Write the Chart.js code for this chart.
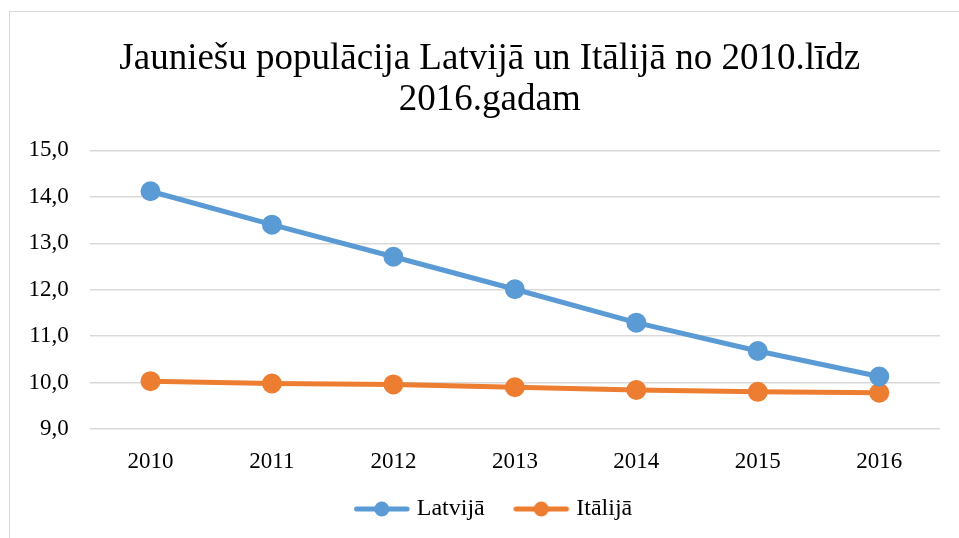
<!DOCTYPE html>
<html>
<head>
<meta charset="utf-8">
<script src="https://cdn.jsdelivr.net/npm/chart.js@4"></script>
<style>
  html, body { margin: 0; padding: 0; background: #fff; }
  #wrap {
    position: absolute; left: 9px; top: 11px; width: 960px; height: 540px;
    border-left: 1px solid #d9d9d9; border-top: 1px solid #d9d9d9;
  }
  #chart { position: absolute; left: -10px; top: -12px; }
</style>
</head>
<body>
<div id="wrap"><canvas id="chart" width="959" height="538"></canvas></div>
<script>
    const years = ['2010', '2011', '2012', '2013', '2014', '2015', '2016'];
    const latvija = [14.12, 13.40, 12.71, 12.01, 11.29, 10.68, 10.13];
    const italija = [10.03, 9.98, 9.96, 9.90, 9.84, 9.80, 9.78];
    const yTicks = [9, 10, 11, 12, 13, 14, 15];

    const blue = 'rgb(91, 155, 213)';
    const orange = 'rgb(237, 125, 49)';

    // legend marker: line with a dot, drawn off-centre to leave a gap before it
    function marker(color) {
        const c = document.createElement('canvas');
        c.width = 72; c.height = 18;
        const ctx = c.getContext('2d');
        ctx.strokeStyle = color;
        ctx.lineWidth = 5;
        ctx.lineCap = 'round';
        ctx.beginPath();
        ctx.moveTo(16.5, 9); ctx.lineTo(67, 9);
        ctx.stroke();
        ctx.fillStyle = color;
        ctx.beginPath();
        ctx.arc(41.75, 9, 7.5, 0, Math.PI * 2);
        ctx.fill();
        return c;
    }

    const data = {
        labels: years,
        datasets: [
            {
                label: 'Latvijā',
                data: latvija,
                borderColor: blue,
                backgroundColor: blue,
                borderWidth: 5,
                pointRadius: 7.5,
                pointHoverRadius: 7.5,
                legendMarker: marker(blue),
            },
            {
                label: 'Itālijā',
                data: italija,
                borderColor: orange,
                backgroundColor: orange,
                borderWidth: 5,
                pointRadius: 7.5,
                pointHoverRadius: 7.5,
                legendMarker: marker(orange),
            }
        ]
    };

    const serif = "'Liberation Serif', 'Times New Roman', serif";

    const cfg = {
        type: 'line',
        data: data,
        options: {
            responsive: false,
            animation: false,
            layout: { padding: { left: 7.5, right: -13, top: 39, bottom: 7 } },
            plugins: {
                title: {
                    display: true,
                    text: ['Jauniešu populācija Latvijā un Itālijā no 2010.līdz', '2016.gadam'],
                    font: { family: serif, size: 37, weight: 'normal', lineHeight: 1.1 },
                    color: '#000',
                    padding: { top: 0, bottom: 30 }
                },
                legend: {
                    position: 'bottom',
                    labels: {
                        usePointStyle: true,
                        pointStyleWidth: 57.5,
                        font: { family: serif, size: 24 },
                        color: '#000',
                        padding: 22,
                        generateLabels: (chart) => chart.data.datasets.map((ds, i) => ({
                            text: ds.label,
                            pointStyle: ds.legendMarker,
                            fillStyle: ds.borderColor,
                            strokeStyle: ds.borderColor,
                            lineWidth: 0,
                            datasetIndex: i,
                            hidden: false,
                            fontColor: '#000'
                        }))
                    }
                },
                tooltip: { enabled: false }
            },
            scales: {
                x: {
                    offset: true,
                    grid: { display: false, drawTicks: false },
                    border: { display: false },
                    ticks: { font: { family: serif, size: 23 }, color: '#000', padding: 19.5 },
                    afterFit: (axis) => { axis.height = 46; }
                },
                y: {
                    min: yTicks[0],
                    max: yTicks[yTicks.length - 1],
                    afterBuildTicks: (axis) => { axis.ticks = yTicks.map(v => ({ value: v })); },
                    grid: { color: '#d9d9d9', lineWidth: 1.5, drawTicks: false },
                    border: { display: false },
                    ticks: {
                        font: { family: serif, size: 23 },
                        color: '#000',
                        padding: 21,
                        callback: (v) => v.toFixed(1).replace('.', ',')
                    }
                },
                // empty right-hand space so the plot ends where the reference does
                yRight: {
                    position: 'right',
                    grid: { display: false, drawTicks: false },
                    border: { display: false },
                    ticks: { display: false },
                    afterFit: (axis) => { axis.width = 32; }
                }
            }
        }
    };

    const chart = new Chart(document.getElementById('chart'), cfg);
</script>
</body>
</html>
